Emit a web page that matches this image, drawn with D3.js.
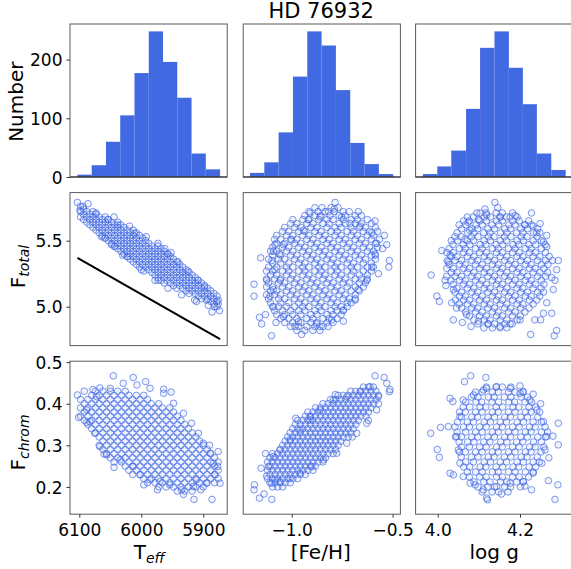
<!DOCTYPE html>
<html><head><meta charset="utf-8">
<script src="https://cdn.jsdelivr.net/npm/d3@7"></script>
<style>body{margin:0;background:#fff}svg{display:block}text{font-family:"DejaVu Sans",sans-serif;fill:#000}</style>
</head><body><svg id="c" width="571" height="569"></svg>
<script>
// ---------------- data ----------------
const title = "HD 76932";
const teffEdges = [6103,6080,6057,6034,6011,5988,5965,5942,5919,5896,5873];
const teffCounts = [4,20,60,105,177,248,196,135,40,13];
const fehEdges = [-1.207,-1.136,-1.065,-0.994,-0.923,-0.852,-0.781,-0.710,-0.639,-0.568,-0.497];
const fehCounts = [7,25,76,171,248,224,148,58,22,5];
const loggEdges = [3.964,3.999,4.033,4.069,4.103,4.138,4.173,4.207,4.241,4.276,4.311];
const loggCounts = [5,18,45,116,220,248,186,124,40,12];

const teffTicks = [6100,6000,5900];
const fehTicks = [-1.0,-0.5];
const loggTicks = [4.0,4.2];
const countTicks = [0,100,200];
const ftotTicks = [5.0,5.5];
const fchromTicks = [0.2,0.3,0.4,0.5];

const teffDomain = [6115,5861.5];
const fehDomain = [-1.2406,-0.4613];
const loggDomain = [3.9463,4.3283];
const countDomain = [0,260.6];
const ftotDomain = [4.7053,5.8644];
const fchromDomain = [0.1344,0.5022];

const fitTeff = [6103,5873];
const fitFtot = [5.369,4.755];

// Teff vs F_total: columns [Teff, Ftot...]
const teffFtotCols = [
[6098,5.68,5.72,5.76],[6093,5.66,5.70,5.74],[6088,5.64,5.68,5.72],[6083,5.62,5.66,5.70],
[6078,5.60,5.64,5.68,5.72],[6073,5.58,5.62,5.66,5.70],[6068,5.56,5.60,5.64,5.68],[6063,5.54,5.58,5.62,5.66],
[6058,5.52,5.56,5.60,5.64,5.68],[6053,5.50,5.54,5.58,5.62,5.66],[6048,5.48,5.52,5.56,5.60,5.64],[6043,5.46,5.50,5.54,5.58,5.62],
[6038,5.44,5.48,5.52,5.56,5.60,5.64],[6033,5.42,5.46,5.50,5.54,5.58,5.62],[6028,5.40,5.44,5.48,5.52,5.56,5.60],[6023,5.38,5.42,5.46,5.50,5.54,5.58],
[6018,5.36,5.40,5.44,5.48,5.52,5.56],[6013,5.34,5.38,5.42,5.46,5.50,5.54,5.58],[6008,5.32,5.36,5.40,5.44,5.48,5.52,5.56],[6003,5.30,5.34,5.38,5.42,5.46,5.50,5.54],
[5998,5.32,5.36,5.40,5.44,5.48,5.52],[5993,5.30,5.34,5.38,5.42,5.46,5.50],[5988,5.28,5.32,5.36,5.40,5.44,5.48],[5983,5.26,5.30,5.34,5.38,5.42,5.46],
[5978,5.24,5.28,5.32,5.36,5.40,5.44],[5973,5.22,5.26,5.30,5.34,5.38,5.42,5.46],[5968,5.20,5.24,5.28,5.32,5.36,5.40,5.44],[5963,5.18,5.22,5.26,5.30,5.34,5.38,5.42],
[5958,5.20,5.24,5.28,5.32,5.36,5.40],[5953,5.18,5.22,5.26,5.30,5.34,5.38],[5948,5.16,5.20,5.24,5.28,5.32,5.36],[5943,5.14,5.18,5.22,5.26,5.30,5.34],
[5938,5.16,5.20,5.24,5.28,5.32],[5933,5.14,5.18,5.22,5.26,5.30],[5928,5.12,5.16,5.20,5.24,5.28],[5923,5.10,5.14,5.18,5.22,5.26],
[5918,5.12,5.16,5.20,5.24],[5913,5.10,5.14,5.18,5.22],[5908,5.08,5.12,5.16,5.20],[5903,5.06,5.10,5.14,5.18],
[5898,5.08,5.12,5.16],[5893,5.06,5.10,5.14],[5888,5.04,5.08,5.12],[5883,5.02,5.06,5.10],[5878,5.00,5.04,5.08]
];
const teffFtotOut = [[6103,5.79],[6099,5.73],[6094,5.76],[6044,5.68],[6048,5.47],[6019,5.61],[5962,5.44],[5952,5.41],
[5996,5.27],[5973,5.20],[5911,5.04],[5886,4.96],[5874,4.97],[5876,5.05],[5882,5.00],[5895,5.05],[5876,5.02],[6059,5.52],[6030,5.39],
[6086,5.78],[6073,5.71],[6054,5.66],[6038,5.62],[6011,5.555],[5992,5.53],[5973,5.48],[5957,5.40],[5941,5.34],[5925,5.27],
[5909,5.20],[5898,5.15],[6064,5.53],[6043,5.455],[6022,5.38],[6000,5.28],[5978,5.20],[5957,5.14],[5935,5.09],[5914,5.05],[5892,5.01]];

// [Fe/H] vs F_total: rows [Ftot, FeH...]
const fehFtotRows = [
[5.75,-0.885,-0.85,-0.805,-0.77],
[5.72,-0.915,-0.87,-0.835,-0.79,-0.745,-0.715,-0.67],
[5.69,-0.935,-0.885,-0.855,-0.81,-0.765,-0.735,-0.685,-0.655],
[5.66,-0.995,-0.945,-0.915,-0.865,-0.825,-0.795,-0.745,-0.705,-0.675,-0.625],
[5.63,-1.005,-0.975,-0.925,-0.895,-0.845,-0.815,-0.765,-0.735,-0.685,-0.655,-0.605],
[5.60,-1.035,-0.985,-0.955,-0.905,-0.875,-0.825,-0.785,-0.755,-0.705,-0.665,-0.635,-0.585],
[5.57,-1.045,-1.015,-0.965,-0.935,-0.885,-0.855,-0.805,-0.775,-0.725,-0.695,-0.645,-0.615,-0.575],
[5.54,-1.075,-1.025,-0.995,-0.945,-0.915,-0.865,-0.835,-0.785,-0.755,-0.705,-0.675,-0.625,-0.595],
[5.51,-1.085,-1.055,-1.005,-0.975,-0.925,-0.895,-0.845,-0.815,-0.765,-0.735,-0.685,-0.655,-0.605,-0.565],
[5.48,-1.075,-1.035,-0.985,-0.955,-0.905,-0.875,-0.825,-0.795,-0.745,-0.715,-0.665,-0.635,-0.585],
[5.45,-1.095,-1.045,-1.015,-0.965,-0.935,-0.885,-0.855,-0.805,-0.775,-0.725,-0.695,-0.645,-0.615,-0.575],
[5.42,-1.105,-1.075,-1.025,-0.995,-0.945,-0.915,-0.865,-0.835,-0.785,-0.755,-0.705,-0.675,-0.625,-0.595],
[5.39,-1.095,-1.055,-1.005,-0.975,-0.925,-0.895,-0.845,-0.815,-0.765,-0.735,-0.685,-0.655,-0.605,-0.585],
[5.36,-1.115,-1.065,-1.035,-0.985,-0.955,-0.905,-0.875,-0.825,-0.795,-0.745,-0.715,-0.665,-0.635,-0.585],
[5.33,-1.095,-1.055,-1.015,-0.965,-0.935,-0.885,-0.855,-0.805,-0.775,-0.725,-0.695,-0.645,-0.605],
[5.30,-1.115,-1.075,-1.025,-0.995,-0.945,-0.915,-0.865,-0.835,-0.785,-0.755,-0.705,-0.675,-0.625,-0.595],
[5.27,-1.125,-1.095,-1.045,-1.015,-0.965,-0.935,-0.885,-0.855,-0.805,-0.775,-0.725,-0.695,-0.645,-0.605],
[5.24,-1.105,-1.075,-1.025,-0.995,-0.945,-0.915,-0.865,-0.835,-0.785,-0.755,-0.705,-0.665,-0.625],
[5.21,-1.125,-1.085,-1.055,-1.005,-0.975,-0.925,-0.895,-0.845,-0.815,-0.765,-0.735,-0.685,-0.655,-0.625],
[5.18,-1.115,-1.065,-1.035,-0.985,-0.955,-0.905,-0.875,-0.825,-0.795,-0.745,-0.715,-0.665,-0.635],
[5.15,-1.125,-1.095,-1.045,-1.015,-0.965,-0.935,-0.885,-0.855,-0.805,-0.775,-0.725,-0.685,-0.645],
[5.12,-1.105,-1.075,-1.025,-0.995,-0.945,-0.915,-0.865,-0.835,-0.785,-0.755,-0.705,-0.665],
[5.09,-1.125,-1.085,-1.055,-1.005,-0.975,-0.925,-0.895,-0.845,-0.815,-0.765,-0.735,-0.685],
[5.06,-1.115,-1.065,-1.035,-0.985,-0.955,-0.905,-0.875,-0.825,-0.795,-0.745,-0.715,-0.685],
[5.03,-1.105,-1.055,-1.015,-0.965,-0.935,-0.885,-0.855,-0.805,-0.775,-0.725,-0.705],
[5.00,-1.095,-1.065,-1.025,-0.985,-0.945,-0.915,-0.865,-0.835,-0.785,-0.755,-0.725],
[4.97,-1.085,-1.045,-1.005,-0.965,-0.935,-0.885,-0.855,-0.805,-0.775,-0.745],
[4.94,-1.075,-1.035,-0.995,-0.955,-0.905,-0.875,-0.825,-0.795,-0.755],
[4.91,-1.055,-1.015,-0.975,-0.925,-0.895,-0.845,-0.815,-0.775],
[4.88,-1.035,-0.995,-0.955,-0.905,-0.875,-0.825,-0.795],
[4.85,-1.005,-0.965,-0.925,-0.885,-0.845,-0.82],
[4.82,-0.975,-0.935,-0.895,-0.86]
];
const fehFtotOut = [[-1.10,4.78],[-0.951,4.79],[-1.154,5.37],[-1.187,5.17],[-1.187,5.08],[-1.16,4.92],[-1.13,4.94],[-1.149,4.87],
[-0.785,5.79],[-0.789,5.74],[-0.909,5.71],[-0.587,5.65],[-0.541,5.54],[-0.529,5.47],[-0.516,5.35],[-0.519,5.30],
[-0.744,4.89],[-0.86,4.85],[-0.984,4.85],[-1.078,4.88],[-1.124,5.20],[-1.091,5.42],[-1.083,5.47],[-0.55,5.44],[-0.57,5.25],
[-1.083,5.28],[-1.099,5.35],[-1.061,5.40],[-1.041,5.47],[-1.0,5.505],[-0.942,5.58],[-0.918,5.66],[-0.86,5.68],[-0.818,5.72],
[-0.752,5.68],[-0.711,5.63],[-0.661,5.61],[-0.603,5.56],[-0.579,5.48],[-0.587,5.40],[-0.603,5.30],[-0.628,5.20],[-0.67,5.13],
[-0.686,5.05],[-0.744,4.975],[-0.802,4.90],[-0.876,4.87],[-0.967,4.886],[-1.041,4.925],[-1.091,5.0],[-1.108,5.08],[-1.091,5.13],[-1.058,5.20]];

// log g vs F_total: rows [Ftot, logg...]
const loggFtotRows = [
[5.71,4.103,4.118,4.142,4.157,4.182],
[5.68,4.072,4.087,4.113,4.128,4.152,4.167,4.193],
[5.65,4.063,4.077,4.102,4.118,4.143,4.157,4.182,4.198,4.221],
[5.62,4.052,4.068,4.093,4.108,4.132,4.148,4.173,4.188,4.212,4.228],
[5.59,4.058,4.083,4.097,4.122,4.138,4.163,4.177,4.202,4.218,4.243],
[5.56,4.047,4.073,4.088,4.112,4.127,4.153,4.168,4.192,4.207,4.233,4.248],
[5.53,4.042,4.057,4.082,4.098,4.123,4.137,4.162,4.178,4.203,4.217,4.242],
[5.50,4.033,4.048,4.072,4.087,4.113,4.128,4.152,4.167,4.193,4.208,4.232,4.252],
[5.47,4.037,4.062,4.078,4.103,4.117,4.142,4.158,4.183,4.197,4.222,4.238,4.261],
[5.44,4.028,4.053,4.067,4.092,4.108,4.133,4.147,4.172,4.188,4.213,4.227,4.252],
[5.41,4.022,4.038,4.063,4.077,4.102,4.118,4.143,4.157,4.182,4.198,4.223,4.237,4.262],
[5.38,4.033,4.047,4.072,4.088,4.113,4.127,4.152,4.168,4.193,4.207,4.232,4.248,4.271],
[5.35,4.023,4.042,4.058,4.083,4.097,4.122,4.138,4.163,4.177,4.202,4.218,4.243,4.262],
[5.32,4.028,4.053,4.067,4.092,4.108,4.133,4.147,4.172,4.188,4.213,4.227,4.252,4.268],
[5.29,4.022,4.038,4.063,4.077,4.102,4.118,4.143,4.157,4.182,4.198,4.223,4.237,4.258],
[5.26,4.033,4.047,4.072,4.088,4.113,4.127,4.152,4.168,4.193,4.207,4.232,4.248,4.267],
[5.23,4.042,4.058,4.083,4.097,4.122,4.138,4.163,4.177,4.202,4.218,4.243,4.262],
[5.20,4.032,4.053,4.067,4.092,4.108,4.133,4.147,4.172,4.188,4.213,4.227,4.252],
[5.17,4.038,4.063,4.077,4.102,4.118,4.143,4.157,4.182,4.198,4.223,4.237,4.258],
[5.14,4.047,4.072,4.088,4.113,4.127,4.152,4.168,4.193,4.207,4.232,4.251],
[5.11,4.042,4.058,4.083,4.097,4.122,4.138,4.163,4.177,4.202,4.218,4.243,4.257],
[5.08,4.053,4.067,4.092,4.108,4.133,4.147,4.172,4.188,4.213,4.227,4.248],
[5.05,4.043,4.063,4.077,4.102,4.118,4.143,4.157,4.182,4.198,4.223,4.241],
[5.02,4.052,4.072,4.088,4.113,4.127,4.152,4.168,4.193,4.207,4.232],
[4.99,4.058,4.083,4.097,4.122,4.138,4.163,4.177,4.202,4.222],
[4.96,4.068,4.092,4.108,4.133,4.147,4.172,4.188,4.212],
[4.93,4.077,4.102,4.118,4.143,4.157,4.182,4.201],
[4.90,4.088,4.113,4.127,4.152,4.168,4.193],
[4.87,4.098,4.122,4.138,4.163,4.181],
[4.84,4.112,4.133,4.152,4.168]
];
const loggFtotOut = [[3.984,5.24],[4.010,5.425],[3.998,5.08],[4.004,5.04],[4.038,4.90],[4.139,5.79],[4.115,5.74],[4.146,5.75],
[4.228,5.71],[4.188,5.69],[4.289,4.82],[4.283,4.78],[4.226,4.79],[4.277,4.95],[4.293,5.35],[4.279,5.35],
[4.289,5.28],[4.277,5.22],[4.081,4.85],[4.265,5.54],[4.249,5.63],[4.06,4.88],[4.25,4.90],[4.02,5.16],
[4.074,5.64],[4.078,5.58],[4.066,5.51],[4.03,5.39],[4.026,5.34],[4.022,5.23],[4.018,5.20],[4.038,5.13],[4.034,5.03],
[4.046,4.99],[4.07,4.94],[4.099,4.89],[4.123,4.87],[4.151,4.85],[4.176,4.87],[4.2,4.90],[4.236,4.90],[4.257,4.95],
[4.265,5.03],[4.281,5.13],[4.285,5.20],[4.265,5.455],[4.257,5.49],[4.24,5.56],[4.232,5.61],[4.212,5.62],[4.176,5.68],
[4.151,5.68],[4.099,5.66],[4.095,5.71],[4.119,5.695]];

// Teff vs F_chrom: columns [Teff, Fchrom...]
const teffFchromCols = [
[6098,0.37,0.39,0.41],[6092,0.36,0.38,0.40],[6086,0.35,0.37,0.39,0.41],[6080,0.34,0.36,0.38,0.40,0.42],
[6074,0.33,0.35,0.37,0.39,0.41,0.43],[6068,0.30,0.32,0.34,0.36,0.38,0.40,0.42],
[6062,0.29,0.31,0.33,0.35,0.37,0.39,0.41,0.43],[6056,0.28,0.30,0.32,0.34,0.36,0.38,0.40,0.42],
[6050,0.27,0.29,0.31,0.33,0.35,0.37,0.39,0.41,0.43],[6044,0.26,0.28,0.30,0.32,0.34,0.36,0.38,0.40,0.42],
[6038,0.27,0.29,0.31,0.33,0.35,0.37,0.39,0.41,0.43],[6032,0.26,0.28,0.30,0.32,0.34,0.36,0.38,0.40,0.42],
[6026,0.25,0.27,0.29,0.31,0.33,0.35,0.37,0.39,0.41,0.43],[6020,0.24,0.26,0.28,0.30,0.32,0.34,0.36,0.38,0.40,0.42],
[6014,0.23,0.25,0.27,0.29,0.31,0.33,0.35,0.37,0.39,0.41],[6008,0.24,0.26,0.28,0.30,0.32,0.34,0.36,0.38,0.40,0.42],
[6002,0.23,0.25,0.27,0.29,0.31,0.33,0.35,0.37,0.39,0.41],[5996,0.22,0.24,0.26,0.28,0.30,0.32,0.34,0.36,0.38,0.40,0.42],
[5990,0.21,0.23,0.25,0.27,0.29,0.31,0.33,0.35,0.37,0.39,0.41],[5984,0.22,0.24,0.26,0.28,0.30,0.32,0.34,0.36,0.38,0.40],
[5978,0.21,0.23,0.25,0.27,0.29,0.31,0.33,0.35,0.37,0.39],[5972,0.20,0.22,0.24,0.26,0.28,0.30,0.32,0.34,0.36,0.38,0.40],
[5966,0.21,0.23,0.25,0.27,0.29,0.31,0.33,0.35,0.37,0.39],[5960,0.20,0.22,0.24,0.26,0.28,0.30,0.32,0.34,0.36,0.38],
[5954,0.21,0.23,0.25,0.27,0.29,0.31,0.33,0.35,0.37,0.39],[5948,0.20,0.22,0.24,0.26,0.28,0.30,0.32,0.34,0.36,0.38],
[5942,0.19,0.21,0.23,0.25,0.27,0.29,0.31,0.33,0.35,0.37],[5936,0.20,0.22,0.24,0.26,0.28,0.30,0.32,0.34,0.36],
[5930,0.19,0.21,0.23,0.25,0.27,0.29,0.31,0.33,0.35],[5924,0.20,0.22,0.24,0.26,0.28,0.30,0.32,0.34],
[5918,0.19,0.21,0.23,0.25,0.27,0.29,0.31,0.33],[5912,0.20,0.22,0.24,0.26,0.28,0.30,0.32],
[5906,0.21,0.23,0.25,0.27,0.29,0.31],[5900,0.20,0.22,0.24,0.26,0.28,0.30],
[5894,0.21,0.23,0.25,0.27,0.29],[5888,0.22,0.24,0.26,0.28],[5882,0.21,0.23,0.25,0.27],[5876,0.22,0.24,0.26]
];
const teffFchromOut = [[6103,0.421],[6101,0.367],[6092,0.43],[6078,0.434],[6067,0.438],[6045,0.467],[6013,0.463],[5993,0.453],
[5964,0.435],[5952,0.428],[6060,0.279],[6044,0.247],[5996,0.205],[5974,0.193],[5932,0.182],[5915,0.17],
[5886,0.17],[5873,0.209],[5877,0.249],[5876,0.285],[5904,0.193],[5911,0.217],[6088,0.355],[5890,0.30],
[6088,0.385],[6083,0.357],[6075,0.329],[6067,0.297],[6056,0.277],[6034,0.265],[6013,0.249],[6002,0.229],[5986,0.217],
[5970,0.213],[5954,0.205],[5935,0.193],[5916,0.201],[5895,0.209],[5881,0.229],[5884,0.257],[5889,0.281],[5900,0.305],
[5908,0.329],[5919,0.353],[5932,0.377],[5948,0.401],[5964,0.425],[5986,0.437],[6007,0.445],[6029,0.449],[6050,0.437],[6072,0.417]];

// [Fe/H] vs F_chrom: columns [FeH, Fchrom...]
const fehFchromCols = [
[-1.1200,0.22,0.24,0.26],[-1.1075,0.21,0.23,0.25,0.27],[-1.0950,0.20,0.22,0.24,0.26,0.28],[-1.0825,0.21,0.23,0.25,0.27],
[-1.0700,0.20,0.22,0.24,0.26,0.28],[-1.0575,0.21,0.23,0.25,0.27,0.29],[-1.0450,0.20,0.22,0.24,0.26,0.28,0.30],
[-1.0325,0.21,0.23,0.25,0.27,0.29,0.31],[-1.0200,0.22,0.24,0.26,0.28,0.30,0.32],[-1.0075,0.21,0.23,0.25,0.27,0.29,0.31,0.33],
[-0.9950,0.22,0.24,0.26,0.28,0.30,0.32,0.34],[-0.9825,0.23,0.25,0.27,0.29,0.31,0.33,0.35],
[-0.9700,0.22,0.24,0.26,0.28,0.30,0.32,0.34,0.36],[-0.9575,0.23,0.25,0.27,0.29,0.31,0.33,0.35],
[-0.9450,0.24,0.26,0.28,0.30,0.32,0.34,0.36],[-0.9325,0.23,0.25,0.27,0.29,0.31,0.33,0.35,0.37],
[-0.9200,0.24,0.26,0.28,0.30,0.32,0.34,0.36,0.38],[-0.9075,0.25,0.27,0.29,0.31,0.33,0.35,0.37],
[-0.8950,0.24,0.26,0.28,0.30,0.32,0.34,0.36,0.38],[-0.8825,0.25,0.27,0.29,0.31,0.33,0.35,0.37,0.39],
[-0.8700,0.26,0.28,0.30,0.32,0.34,0.36,0.38],[-0.8575,0.27,0.29,0.31,0.33,0.35,0.37,0.39],
[-0.8450,0.26,0.28,0.30,0.32,0.34,0.36,0.38,0.40],[-0.8325,0.27,0.29,0.31,0.33,0.35,0.37,0.39],
[-0.8200,0.28,0.30,0.32,0.34,0.36,0.38,0.40],[-0.8075,0.29,0.31,0.33,0.35,0.37,0.39,0.41],
[-0.7950,0.28,0.30,0.32,0.34,0.36,0.38,0.40],[-0.7825,0.29,0.31,0.33,0.35,0.37,0.39,0.41],
[-0.7700,0.30,0.32,0.34,0.36,0.38,0.40,0.42],[-0.7575,0.31,0.33,0.35,0.37,0.39,0.41],
[-0.7450,0.32,0.34,0.36,0.38,0.40,0.42],[-0.7325,0.33,0.35,0.37,0.39,0.41],
[-0.7200,0.32,0.34,0.36,0.38,0.40,0.42],[-0.7075,0.33,0.35,0.37,0.39,0.41,0.43],
[-0.6950,0.34,0.36,0.38,0.40,0.42],[-0.6825,0.35,0.37,0.39,0.41,0.43],
[-0.6700,0.36,0.38,0.40,0.42],[-0.6575,0.37,0.39,0.41,0.43],[-0.6450,0.38,0.40,0.42,0.44],
[-0.6325,0.37,0.39,0.41,0.43],[-0.6200,0.38,0.40,0.42,0.44],[-0.6075,0.39,0.41,0.43],
[-0.5950,0.40,0.42,0.44],[-0.5825,0.41,0.43],[-0.5700,0.40,0.42]
];
const fehFchromOut = [[-1.185,0.205],[-1.187,0.193],[-1.16,0.173],[-1.137,0.183],[-1.099,0.17],[-1.152,0.245],[-1.124,0.226],
[-0.587,0.467],[-0.542,0.463],[-0.529,0.449],[-0.513,0.434],[-0.516,0.429],[-0.784,0.422],[-0.909,0.369],[-1.083,0.217],
[-1.13,0.28],[-0.98,0.365],[-0.62,0.36],[-0.70,0.32],
[-1.099,0.209],[-1.058,0.213],[-1.008,0.221],[-0.959,0.233],[-0.901,0.249],[-0.843,0.265],[-0.777,0.281],[-0.727,0.305],
[-0.678,0.329],[-0.628,0.353],[-0.579,0.385],[-0.57,0.417],[-0.612,0.441],[-0.661,0.429],[-0.727,0.417],[-0.794,0.409],
[-0.86,0.385],[-0.909,0.361],[-0.959,0.337],[-1.008,0.313],[-1.058,0.289],[-1.091,0.273],[-1.116,0.249]];

// log g vs F_chrom: rows [Fchrom, logg...]
const loggFchromRows = [
[0.440,4.118,4.142,4.157,4.178],
[0.428,4.092,4.108,4.133,4.147,4.172,4.188,4.207],
[0.416,4.082,4.098,4.123,4.137,4.162,4.178,4.203,4.218],
[0.404,4.068,4.093,4.107,4.132,4.148,4.173,4.187,4.212,4.228],
[0.392,4.062,4.078,4.103,4.117,4.142,4.158,4.183,4.197,4.222,4.238],
[0.380,4.053,4.067,4.092,4.108,4.133,4.147,4.172,4.188,4.213,4.227,4.248],
[0.368,4.058,4.083,4.097,4.122,4.138,4.163,4.177,4.202,4.218,4.243],
[0.356,4.048,4.072,4.087,4.113,4.128,4.152,4.167,4.193,4.208,4.232,4.252],
[0.344,4.042,4.063,4.077,4.102,4.118,4.143,4.157,4.182,4.198,4.223,4.237,4.261],
[0.332,4.047,4.068,4.092,4.108,4.133,4.147,4.172,4.188,4.213,4.227,4.252,4.267],
[0.320,4.043,4.058,4.083,4.097,4.122,4.138,4.163,4.177,4.202,4.218,4.243,4.262],
[0.308,4.052,4.073,4.088,4.112,4.127,4.153,4.168,4.192,4.207,4.233,4.252],
[0.296,4.058,4.077,4.102,4.118,4.143,4.157,4.182,4.198,4.223,4.237,4.258],
[0.284,4.053,4.067,4.092,4.108,4.133,4.147,4.172,4.188,4.213,4.227,4.251],
[0.272,4.057,4.082,4.098,4.123,4.137,4.162,4.178,4.203,4.217,4.242],
[0.260,4.068,4.087,4.113,4.128,4.152,4.167,4.193,4.208,4.232,4.247],
[0.248,4.063,4.078,4.103,4.117,4.142,4.158,4.183,4.197,4.222,4.238],
[0.236,4.072,4.092,4.108,4.133,4.147,4.172,4.188,4.213,4.232],
[0.224,4.077,4.102,4.118,4.143,4.157,4.182,4.198,4.221],
[0.212,4.088,4.112,4.127,4.153,4.168,4.192,4.208],
[0.200,4.098,4.122,4.138,4.163,4.177,4.201],
[0.188,4.108,4.132,4.148,4.171]
];
const loggFchromOut = [[3.983,0.329],[3.999,0.290],[4.004,0.271],[4.026,0.345],[4.007,0.343],[4.030,0.233],[4.038,0.229],[4.030,0.413],
[4.037,0.405],[4.065,0.453],[4.080,0.467],[4.117,0.463],[4.119,0.437],[4.091,0.205],[4.119,0.173],[4.121,0.169],
[4.155,0.183],[4.228,0.193],[4.285,0.170],[4.292,0.205],[4.269,0.215],[4.212,0.202],[4.293,0.301],[4.280,0.322],
[4.293,0.353],[4.232,0.423],[4.200,0.443],[4.208,0.429],[4.25,0.40],[4.27,0.27],
[4.062,0.409],[4.054,0.369],[4.046,0.321],[4.05,0.289],[4.054,0.257],[4.062,0.225],[4.079,0.209],[4.111,0.193],
[4.143,0.201],[4.176,0.209],[4.208,0.213],[4.232,0.233],[4.253,0.257],[4.261,0.289],[4.265,0.321],[4.257,0.357],
[4.241,0.385],[4.224,0.409],[4.2,0.425],[4.176,0.437],[4.143,0.441],[4.111,0.433],[4.087,0.421]];

// ---------------- layout ----------------
const colLeft = [70, 243.2, 415.6], colW = 157.2;
const rowTop = [24, 192.6, 361.2], rowH = 153;
const blue = "#4169e1";
const fontFam = "DejaVu Sans, sans-serif";

const fromRows = rows => rows.flatMap(([y, ...xs]) => xs.map(x => [x, y]));
const fromCols = cols => cols.flatMap(([x, ...ys]) => ys.map(y => [x, y]));

const svg = d3.select("#c");
const defs = svg.append("defs");

const xScales = [
  d3.scaleLinear().domain(teffDomain).range([colLeft[0], colLeft[0]+colW]),
  d3.scaleLinear().domain(fehDomain).range([colLeft[1], colLeft[1]+colW]),
  d3.scaleLinear().domain(loggDomain).range([colLeft[2], colLeft[2]+colW])
];
const yScales = [
  d3.scaleLinear().domain(countDomain).range([rowTop[0]+rowH, rowTop[0]]),
  d3.scaleLinear().domain(ftotDomain).range([rowTop[1]+rowH, rowTop[1]]),
  d3.scaleLinear().domain(fchromDomain).range([rowTop[2]+rowH, rowTop[2]])
];

for (let r=0;r<3;r++) for (let c=0;c<3;c++) {
  defs.append("clipPath").attr("id",`clip${r}${c}`).append("rect")
    .attr("x",colLeft[c]).attr("y",rowTop[r]).attr("width",colW).attr("height",rowH);
}

// histograms
const hists = [[teffEdges,teffCounts],[fehEdges,fehCounts],[loggEdges,loggCounts]];
hists.forEach(([edges,counts],c)=>{
  const xs = xScales[c], ys = yScales[0];
  const bins = counts.map((n,i)=>({a:edges[i], b:edges[i+1], n}));
  svg.append("g").attr("clip-path",`url(#clip0${c})`).selectAll("rect").data(bins).join("rect")
    .attr("x", d=>Math.min(xs(d.a),xs(d.b)))
    .attr("width", d=>Math.abs(xs(d.b)-xs(d.a)))
    .attr("y", d=>ys(d.n))
    .attr("height", d=>ys(0)-ys(d.n))
    .attr("fill", blue);
});

// scatter panels
const scatters = [
  [1,0,fromCols(teffFtotCols).concat(teffFtotOut)],
  [1,1,fromRows(fehFtotRows).concat(fehFtotOut)],
  [1,2,fromRows(loggFtotRows).concat(loggFtotOut)],
  [2,0,fromCols(teffFchromCols).concat(teffFchromOut)],
  [2,1,fromCols(fehFchromCols).concat(fehFchromOut)],
  [2,2,fromRows(loggFchromRows).concat(loggFchromOut)]
];
scatters.forEach(([r,c,data])=>{
  const xs = xScales[c], ys = yScales[r];
  svg.append("g").attr("clip-path",`url(#clip${r}${c})`).selectAll("circle").data(data).join("circle")
    .attr("cx", d=>xs(d[0])).attr("cy", d=>ys(d[1])).attr("r",3.3)
    .attr("fill", blue).attr("fill-opacity",0.07)
    .attr("stroke", blue).attr("stroke-opacity",0.72).attr("stroke-width",0.95);
});

// fit line
const fitPts = fitTeff.map((t,i)=>[t, fitFtot[i]]);
svg.append("path").datum(fitPts)
  .attr("d", d3.line().x(d=>xScales[0](d[0])).y(d=>yScales[1](d[1])))
  .attr("fill","none").attr("stroke","#000").attr("stroke-width",2);

// frames
for (let r=0;r<3;r++) for (let c=0;c<3;c++) {
  svg.append("rect").attr("x",colLeft[c]).attr("y",rowTop[r]).attr("width",colW).attr("height",rowH)
    .attr("fill","none").attr("stroke","#5a5a5a").attr("stroke-width",1);
  if (r===0) svg.append("line").attr("x1",colLeft[c]).attr("x2",colLeft[c]+colW)
    .attr("y1",rowTop[0]+rowH).attr("y2",rowTop[0]+rowH).attr("stroke","#222").attr("stroke-width",1);
}

// axes
const fmt1 = d3.format(".1f");
function styleAxis(g){
  g.select(".domain").remove();
  g.selectAll(".tick line").attr("stroke","#333").attr("stroke-width",1);
  g.selectAll(".tick text").attr("font-size",17).attr("font-family",fontFam).attr("fill","#000");
}
const leftAxes = [
  d3.axisLeft(yScales[0]).tickValues(countTicks).tickFormat(d3.format("d")),
  d3.axisLeft(yScales[1]).tickValues(ftotTicks).tickFormat(fmt1),
  d3.axisLeft(yScales[2]).tickValues(fchromTicks).tickFormat(fmt1)
];
leftAxes.forEach(ax=>{
  const g = svg.append("g").attr("transform",`translate(${colLeft[0]},0)`)
    .call(ax.tickSize(3.5).tickPadding(4));
  styleAxis(g);
  g.selectAll(".tick text").attr("dy","0.36em");
});
const bottomAxes = [
  d3.axisBottom(xScales[0]).tickValues(teffTicks).tickFormat(d3.format("d")),
  d3.axisBottom(xScales[1]).tickValues(fehTicks).tickFormat(fmt1),
  d3.axisBottom(xScales[2]).tickValues(loggTicks).tickFormat(fmt1)
];
bottomAxes.forEach(ax=>{
  const g = svg.append("g").attr("transform",`translate(0,${rowTop[2]+rowH})`)
    .call(ax.tickSize(3.5).tickPadding(3.5));
  styleAxis(g);
  g.selectAll(".tick text").attr("dy",null).attr("y",22.3);
});

// labels
svg.append("text").attr("x",321.2).attr("y",17.5).attr("text-anchor","middle")
  .attr("font-size",21).attr("font-family",fontFam).text(title);

svg.append("text").attr("transform","translate(23.3,101.7) rotate(-90)").attr("text-anchor","middle")
  .attr("font-size",20).attr("font-family",fontFam).text("Number");

function subLabel(transform, main, sub, x, y){
  const t = svg.append("text").attr("text-anchor","middle").attr("font-size",20).attr("font-family",fontFam);
  if (transform) t.attr("transform",transform); else t.attr("x",x).attr("y",y);
  t.append("tspan").text(main);
  t.append("tspan").attr("font-size",14).attr("font-style","italic").attr("dy",4).text(sub);
}
subLabel("translate(25,266.5) rotate(-90)","F","total");
subLabel("translate(25,442.5) rotate(-90)","F","chrom");
subLabel(null,"T","eff",149.2,558.5);

svg.append("text").attr("x",320.7).attr("y",558.5).attr("text-anchor","middle")
  .attr("font-size",20).attr("font-family",fontFam).text("[Fe/H]");
svg.append("text").attr("x",494.3).attr("y",558.5).attr("text-anchor","middle")
  .attr("font-size",20).attr("font-family",fontFam).text("log g");
</script>
</body></html>
